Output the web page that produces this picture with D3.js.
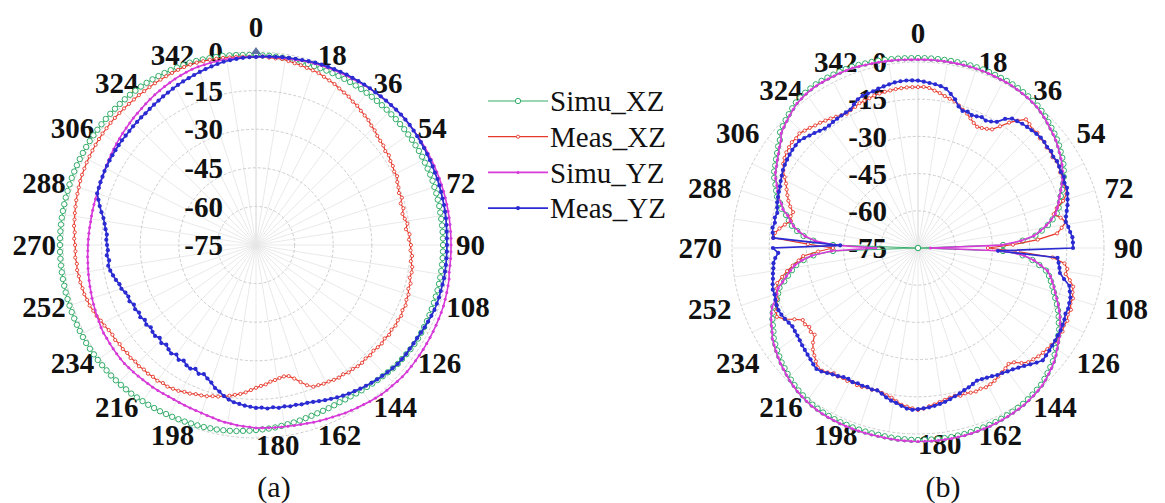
<!DOCTYPE html>
<html>
<head>
<meta charset="utf-8">
<script src="https://cdn.jsdelivr.net/npm/d3@7"></script>
<style>
  body { margin: 0; background: #fff; }
  text { font-family: 'Liberation Serif', 'Times New Roman', serif; fill: #111; }
</style>
</head>
<body>
<svg id="chart" width="1165" height="503"></svg>
<script>
// angle of every sample, degrees (0 = top, clockwise)
const angles = d3.range(0, 360, 2);
const angleTicks = [0, 18, 36, 54, 72, 90, 108, 126, 144, 162, 180, 198, 216, 234, 252, 270, 288, 306, 324, 342];
const radialTicks = [-75, -60, -45, -30, -15, 0];
const seriesNames = ['Simu_XZ', 'Meas_XZ', 'Simu_YZ', 'Meas_YZ'];

// (a) values in dB, one every 2 degrees
const simuXZ_a = [
  -1.2,-1.3,-1.3,-1.4,-1.5,-1.6,-1.7,-1.8,-1.8,-1.9,
  -1.9,-1.9,-1.9,-1.9,-1.9,-1.9,-1.9,-1.9,-1.9,-1.9,
  -1.9,-1.9,-1.9,-1.9,-1.9,-1.9,-1.9,-1.9,-1.9,-1.9,
  -1.9,-1.9,-2.0,-2.0,-2.0,-2.0,-2.1,-2.1,-2.2,-2.2,
  -2.3,-2.3,-2.3,-2.3,-2.3,-2.3,-2.3,-2.3,-2.3,-2.3,
  -2.3,-2.3,-2.3,-2.3,-2.3,-2.3,-2.3,-2.3,-2.3,-2.3,
  -2.3,-2.4,-2.6,-2.8,-3.0,-3.1,-3.4,-3.8,-4.1,-4.4,
  -4.7,-5.0,-5.2,-5.4,-5.6,-5.7,-5.8,-5.7,-5.6,-5.5,
  -5.4,-5.2,-5.0,-4.7,-4.5,-4.3,-4.0,-3.7,-3.5,-3.3,
  -3.1,-2.8,-2.6,-2.3,-2.1,-1.9,-1.7,-1.6,-1.4,-1.3,
  -1.2,-1.0,-0.9,-0.7,-0.6,-0.4,-0.3,-0.1,0,0.2,
  0.4,0.5,0.6,0.7,0.8,0.8,0.9,1.0,1.0,1.1,
  1.2,1.2,1.2,1.2,1.2,1.2,1.2,1.2,1.2,1.2,
  1.2,1.2,1.2,1.2,1.2,1.2,1.2,1.2,1.2,1.2,
  1.2,1.2,1.2,1.2,1.2,1.2,1.2,1.2,1.2,1.2,
  1.2,1.2,1.2,1.2,1.2,1.2,1.2,1.2,1.2,1.2,
  1.2,1.1,1.1,1.0,0.9,0.8,0.7,0.6,0.5,0.4,
  0.4,0.2,0,-0.2,-0.3,-0.4,-0.6,-0.8,-1.0,-1.1
];
const measXZ_a = [
  -1.9,-1.7,-2.0,-2.1,-2.0,-2.4,-2.8,-3.0,-3.4,-3.6,
  -3.9,-4.5,-5.0,-5.4,-6.1,-6.6,-7.0,-7.8,-8.1,-8.8,
  -9.3,-9.7,-10.5,-10.9,-11.6,-12.0,-12.2,-12.9,-12.7,-13.4,
  -13.6,-14.2,-14.0,-14.9,-15.3,-15.9,-15.4,-16.5,-16.0,-16.8,
  -16.3,-15.6,-16.4,-15.2,-15.5,-14.8,-14.9,-14.2,-14.5,-13.7,
  -13.6,-13.9,-13.1,-13.4,-12.7,-12.8,-12.3,-12.7,-12.2,-12.6,
  -12.4,-12.9,-12.6,-13.2,-12.9,-13.2,-13.6,-13.3,-13.7,-13.4,
  -13.5,-13.9,-13.8,-14.4,-14.2,-14.5,-14.9,-15.0,-15.4,-15.6,
  -17.0,-19.0,-21.0,-22.5,-22.8,-22.5,-22.0,-21.6,-20.7,-20.2,
  -19.5,-18.6,-17.6,-16.8,-16.2,-15.5,-15.0,-14.3,-13.9,-13.2,
  -12.8,-12.5,-11.8,-11.5,-10.8,-10.5,-10.1,-10.3,-9.8,-10.0,
  -9.7,-9.9,-9.5,-9.8,-9.4,-9.7,-9.3,-9.5,-9.0,-9.2,
  -8.9,-8.3,-7.9,-7.2,-6.8,-6.2,-6.0,-5.6,-5.5,-5.2,
  -5.1,-4.8,-5.0,-4.6,-4.8,-4.7,-4.3,-4.4,-3.9,-3.8,
  -3.5,-3.3,-3.0,-2.8,-2.6,-2.3,-2.1,-2.0,-1.8,-1.7,
  -1.6,-1.5,-1.4,-1.3,-1.3,-1.2,-1.2,-1.2,-1.2,-1.2,
  -1.2,-1.1,-1.1,-1.0,-0.9,-0.8,-0.7,-0.6,-0.5,-0.4,
  -0.4,-0.5,-0.7,-0.8,-1.0,-1.2,-1.4,-1.5,-1.7,-1.8
];
const simuYZ_a = [
  -1.9,-1.8,-1.8,-1.7,-1.6,-1.6,-1.4,-1.2,-1.0,-0.9,
  -0.8,-0.7,-0.6,-0.5,-0.4,-0.4,-0.2,0,0.1,0.3,
  0.4,0.5,0.6,0.7,0.8,0.8,0.8,0.8,0.8,0.8,
  0.8,0.8,0.8,0.8,0.8,0.8,0.8,0.8,0.8,0.8,
  0.8,0.8,0.8,0.8,0.8,0.8,0.8,0.8,0.8,0.8,
  1.2,1.3,1.4,1.5,1.6,1.6,1.6,1.6,1.6,1.6,
  1.6,1.6,1.6,1.6,1.6,1.6,1.5,1.3,1.1,1.0,
  0.8,0.5,0.2,-0.2,-0.5,-0.8,-1.1,-1.5,-1.8,-2.1,
  -2.3,-2.6,-2.9,-3.1,-3.3,-3.5,-3.6,-3.7,-3.8,-3.9,
  -3.9,-4.2,-4.4,-4.6,-4.9,-5.1,-5.4,-5.8,-6.1,-6.4,
  -6.6,-6.7,-6.8,-6.9,-7.0,-7.0,-6.9,-6.8,-6.7,-6.7,
  -6.6,-6.5,-6.4,-6.3,-6.2,-6.2,-6.3,-6.4,-6.5,-6.6,
  -6.6,-6.8,-7.1,-7.3,-7.6,-7.8,-8.0,-8.3,-8.5,-8.7,
  -8.9,-9.1,-9.3,-9.4,-9.6,-9.7,-9.8,-9.9,-10.0,-10.1,
  -10.1,-10.1,-10.1,-10.1,-10.1,-10.1,-9.9,-9.7,-9.4,-9.2,
  -8.9,-8.6,-8.3,-8.0,-7.7,-7.4,-7.1,-6.8,-6.4,-6.1,
  -5.8,-5.4,-5.0,-4.6,-4.3,-3.9,-3.6,-3.2,-2.9,-2.6,
  -2.3,-2.2,-2.1,-2.0,-2.0,-1.9,-1.9,-1.9,-1.9,-1.9
];
const measYZ_a = [
  -1.9,-1.7,-1.6,-1.5,-1.3,-1.2,-1.0,-0.9,-0.7,-0.5,
  -0.4,-0.3,-0.2,-0.1,0,0,0.1,0.2,0.3,0.3,
  0.4,0.5,0.6,0.7,0.8,0.8,0.8,0.7,0.6,0.5,
  0.4,0.3,0.2,0.1,0,0,-0.1,-0.2,-0.3,-0.3,
  -0.4,-0.5,-0.6,-0.7,-0.8,-0.8,-0.8,-0.8,-0.8,-0.8,
  -0.8,-0.9,-1.0,-1.0,-1.1,-1.2,-1.5,-1.8,-2.1,-2.4,
  -2.7,-2.8,-2.9,-2.9,-3.0,-3.1,-3.5,-3.9,-4.3,-4.7,
  -5.1,-5.6,-6.0,-6.5,-6.9,-7.4,-7.9,-8.5,-9.0,-9.6,
  -10.1,-10.5,-10.6,-11.0,-10.9,-11.3,-11.1,-11.6,-11.3,-11.8,
  -11.7,-12.1,-12.4,-12.9,-13.3,-14.0,-15.0,-16.3,-17.2,-18.8,
  -19.8,-20.9,-20.2,-21.4,-20.6,-21.0,-22.0,-21.2,-22.4,-21.5,
  -22.1,-22.9,-22.0,-23.0,-22.2,-22.5,-23.1,-22.3,-22.9,-22.0,
  -22.5,-21.8,-22.2,-21.2,-21.5,-21.0,-20.0,-19.8,-18.9,-18.2,
  -17.5,-17.0,-17.6,-16.9,-17.4,-17.1,-16.8,-16.9,-16.2,-15.6,
  -14.8,-13.6,-12.4,-11.3,-10.1,-10.0,-9.8,-9.7,-9.5,-9.4,
  -9.3,-9.2,-9.1,-9.0,-8.9,-8.9,-8.8,-8.6,-8.5,-8.3,
  -8.2,-7.9,-7.6,-7.3,-6.9,-6.6,-6.2,-5.8,-5.4,-5.1,
  -4.7,-4.3,-3.9,-3.5,-3.1,-2.7,-2.5,-2.3,-2.1,-2.0
];

// (b) values in dB, one every 2 degrees
const simuXZ_b = [
  1.6,1.6,1.6,1.6,1.6,1.6,1.6,1.6,1.6,1.6,
  1.6,1.5,1.4,1.3,1.3,1.2,1.0,0.8,0.6,0.3,
  0,-0.6,-1.2,-1.9,-2.6,-3.2,-3.9,-4.7,-5.6,-6.4,
  -7.3,-8.4,-9.6,-10.9,-12.3,-13.7,-14.8,-16.0,-17.3,-19.5,
  -21.8,-24.6,-27.4,-32.7,-40.7,-75,-40.7,-32.7,-28.6,-25.6,
  -22.6,-21.0,-19.8,-18.6,-17.4,-16.1,-14.6,-13.2,-11.9,-10.7,
  -9.3,-8.3,-7.3,-6.3,-5.1,-4.0,-3.2,-2.4,-1.6,-0.8,
  -0.4,0,0.4,0.8,1.0,1.2,1.4,1.6,1.8,1.9,
  2.0,2.1,2.2,2.3,2.3,2.4,2.4,2.4,2.4,2.4,
  2.4,2.4,2.3,2.3,2.2,2.1,2.0,2.0,2.0,2.0,
  2.0,1.9,1.9,1.8,1.7,1.6,1.4,1.2,0.8,0.4,
  0,-0.6,-1.2,-1.9,-2.6,-3.2,-4.0,-4.8,-5.6,-6.4,
  -7.7,-8.7,-9.7,-10.9,-12.1,-14.5,-15.7,-16.9,-19.4,-21.4,
  -23.4,-25.4,-28.6,-32.7,-40.7,-75,-40.7,-32.7,-28.6,-25.8,
  -23.4,-21.8,-20.2,-17.7,-16.5,-14.5,-13.3,-12.1,-10.5,-9.3,
  -8.5,-7.5,-6.5,-5.3,-4.3,-2.4,-1.6,-0.8,0,0.8,
  1.6,2.0,2.4,2.6,2.8,2.8,2.8,2.8,2.8,2.8,
  2.8,2.6,2.4,2.3,2.2,2.0,1.9,1.8,1.7,1.6
];
const measXZ_b = [
  -10.1,-10.0,-10.3,-11.2,-11.9,-12.8,-13.5,-14.0,-15.2,-16.4,
  -17.3,-18.6,-19.8,-20.6,-20.2,-19.5,-18.6,-15.8,-12.5,-9.8,
  -7.3,-7.8,-8.6,-8.1,-8.9,-8.5,-9.2,-8.8,-9.6,-9.1,
  -9.3,-10.1,-9.8,-10.8,-10.6,-11.3,-13.5,-16.8,-18.6,-16.2,
  -14.5,-16.5,-18.6,-26.6,-36.7,-46.8,-34.7,-20.6,-15.6,-14.2,
  -14.5,-12.4,-10.5,-10.2,-9.3,-9.6,-8.5,-8.9,-8.0,-8.4,
  -7.7,-8.2,-8.0,-8.5,-8.8,-9.3,-9.7,-10.4,-11.0,-12.6,
  -14.8,-15.7,-15.0,-14.5,-13.9,-13.2,-12.8,-12.5,-12.9,-12.6,
  -12.9,-13.4,-13.0,-13.6,-13.3,-12.8,-12.3,-11.6,-11.0,-10.2,
  -9.7,-10.3,-10.9,-11.4,-12.6,-13.7,-14.3,-14.8,-15.3,-14.9,
  -15.2,-14.6,-14.5,-14.9,-14.3,-14.5,-13.9,-14.1,-13.0,-12.2,
  -12.1,-13.5,-14.8,-16.1,-18.0,-20.6,-20.1,-20.8,-20.0,-20.2,
  -17.5,-14.0,-11.7,-12.4,-13.5,-14.5,-15.0,-15.8,-16.5,-19.0,
  -21.4,-24.0,-26.6,-28.6,-34.7,-40.7,-30.6,-16.5,-17.0,-18.6,
  -20.5,-22.6,-22.1,-22.6,-20.8,-19.4,-18.2,-17.0,-15.8,-14.1,
  -12.3,-10.9,-10.1,-9.4,-9.0,-8.6,-8.9,-8.5,-9.2,-9.8,
  -10.5,-10.9,-11.5,-12.0,-12.6,-13.2,-13.7,-13.1,-12.7,-12.0,
  -11.8,-11.5,-11.0,-10.8,-10.6,-10.5,-10.3,-10.2,-10.1,-10.1
];
const simuYZ_b = [
  1.0,1.0,1.0,1.0,1.0,1.0,1.0,1.0,1.0,1.0,
  1.0,0.9,0.8,0.7,0.7,0.6,0.4,0.2,0,-0.3,
  -0.6,-1.2,-1.8,-2.5,-3.2,-3.8,-4.5,-5.3,-6.2,-7.0,
  -7.9,-9.0,-10.2,-11.5,-12.9,-14.3,-15.4,-16.6,-17.9,-20.1,
  -22.4,-25.2,-28.0,-33.3,-41.3,-70,-40.1,-32.1,-28.0,-25.0,
  -22.0,-20.4,-19.2,-18.0,-16.8,-15.5,-14.0,-12.6,-11.3,-10.1,
  -8.7,-7.7,-6.7,-5.7,-4.5,-3.4,-2.6,-1.8,-1.0,-0.2,
  0.2,0.6,1.0,1.4,1.6,1.8,2.0,2.2,2.4,2.5,
  2.6,2.7,2.8,2.9,2.9,3.0,3.0,3.0,3.0,3.0,
  3.0,3.0,2.9,2.9,2.8,2.7,2.6,2.6,2.6,2.6,
  2.6,2.5,2.5,2.4,2.3,2.2,2.0,1.8,1.4,1.0,
  0.6,0,-0.6,-1.3,-2.0,-2.6,-3.4,-4.2,-5.0,-5.8,
  -7.1,-8.1,-9.1,-10.3,-11.5,-13.9,-15.1,-16.3,-18.8,-20.8,
  -22.8,-24.8,-28.0,-32.1,-40.1,-58,-41.3,-33.3,-29.2,-26.4,
  -24.0,-22.4,-20.8,-18.3,-17.1,-15.1,-13.9,-12.7,-11.1,-9.9,
  -9.1,-8.1,-7.1,-5.9,-4.9,-3.0,-2.2,-1.4,-0.6,0.2,
  1.0,1.4,1.8,2.0,2.2,2.2,2.2,2.2,2.2,2.2,
  2.2,2.0,1.8,1.7,1.6,1.4,1.3,1.2,1.1,1.0
];
const measYZ_b = [
  -7.5,-7.9,-8.3,-8.6,-9.1,-9.8,-11.5,-13.2,-15.6,-16.9,
  -16.5,-17.2,-16.9,-16.3,-16.8,-16.1,-15.0,-12.2,-10.5,-10.1,
  -9.6,-9.3,-9.0,-8.7,-8.4,-8.5,-8.9,-8.6,-9.2,-8.9,
  -9.3,-9.8,-9.5,-10.4,-10.2,-10.9,-11.6,-12.3,-13.2,-14.0,
  -14.5,-13.8,-13.3,-12.6,-12.5,-12.5,-42.7,-18.6,-18.0,-17.4,
  -16.9,-14.8,-12.1,-11.3,-10.4,-10.1,-9.7,-9.9,-9.3,-8.9,
  -8.6,-8.5,-8.3,-8.1,-7.8,-7.6,-7.3,-8.5,-9.8,-11.0,
  -12.0,-12.9,-13.5,-14.2,-14.6,-15.3,-15.8,-16.2,-16.5,-15.9,
  -15.2,-14.7,-14.0,-13.4,-12.7,-12.0,-11.5,-11.0,-10.6,-10.3,
  -10.0,-9.7,-10.1,-11.0,-11.9,-12.5,-13.4,-14.5,-15.3,-15.0,
  -15.4,-15.1,-15.3,-14.8,-15.2,-14.9,-14.1,-13.5,-12.7,-11.8,
  -11.3,-11.9,-12.6,-13.1,-13.6,-14.0,-14.5,-14.9,-15.1,-15.3,
  -14.8,-14.2,-13.7,-13.4,-13.5,-13.8,-14.2,-14.1,-14.6,-15.2,
  -15.6,-16.1,-16.4,-17.3,-18.6,-16.5,-43.6,-16.5,-16.1,-15.8,
  -16.4,-16.0,-16.5,-15.9,-15.3,-14.9,-14.5,-14.1,-13.4,-12.8,
  -12.1,-11.7,-11.3,-11.0,-10.7,-10.6,-10.5,-11.2,-12.0,-12.6,
  -13.3,-13.9,-14.0,-13.7,-13.5,-13.3,-13.1,-12.9,-11.6,-10.3,
  -9.7,-9.5,-9.3,-8.8,-8.4,-8.0,-7.6,-7.4,-7.3,-7.4
];

const styles = {
  Simu_XZ: { color: '#34ad6a', width: 1.1, mr: 2.7, fill: '#fff', sw: 1 },
  Meas_XZ: { color: '#e6392b', width: 1.2, mr: 1.6, fill: '#fff', sw: 0.9 },
  Simu_YZ: { color: '#d63ad8', width: 1.6, mr: 1.5, fill: '#d63ad8', sw: 0 },
  Meas_YZ: { color: '#2b2bd2', width: 1.7, mr: 2.1, fill: '#2b2bd2', sw: 0 }
};

const svg = d3.select('#chart');
const rad = d => d * Math.PI / 180;

function drawPanel(p) {
  const g = svg.append('g').attr('transform', `translate(${p.cx},${p.cy})`);
  const r = d3.scaleLinear().domain([-75, 0]).range([0, p.R]);
  const rv = v => r(Math.max(v, -75));

  // spokes
  g.append('g').selectAll('line').data(d3.range(0, 360, 9)).join('line')
    .attr('x2', d => d3.pointRadial(rad(d), p.R)[0])
    .attr('y2', d => d3.pointRadial(rad(d), p.R)[1])
    .attr('stroke', d => d === 0 ? '#cfcfcf' : '#e6e6e6')
    .attr('stroke-width', 0.9);

  // rings
  g.append('g').selectAll('circle').data(radialTicks.slice(1)).join('circle')
    .attr('r', d => r(d))
    .attr('fill', 'none')
    .attr('stroke', '#cdcdcd')
    .attr('stroke-dasharray', '3,2')
    .attr('stroke-width', 1);

  // radial tick labels
  g.append('g').selectAll('text').data(radialTicks).join('text')
    .attr('x', -p.rlx)
    .attr('y', d => -r(d))
    .attr('dy', '0.35em')
    .attr('text-anchor', 'end')
    .attr('font-size', 29)
    .attr('font-weight', 'bold')
    .text(d => d);

  // angle labels
  g.append('g').selectAll('text').data(angleTicks).join('text')
    .each(function(d) {
      const t = d3.select(this);
      if (d === 0) {
        t.attr('x', 0).attr('y', -(p.R + p.topOff)).attr('text-anchor', 'middle');
      } else {
        const [x, y] = d3.pointRadial(rad(d), p.R + p.off);
        t.attr('x', x).attr('y', y).attr('dy', '0.35em')
          .attr('text-anchor', d <= 180 ? 'start' : 'end');
      }
    })
    .attr('font-size', 29)
    .attr('font-weight', 'bold')
    .text(d => d);

  const line = d3.lineRadial().curve(d3.curveLinearClosed);

  seriesNames.forEach(name => {
    const vals = p.data[name];
    const s = styles[name];
    const pts = vals.map((v, i) => [rad(angles[i]), rv(v)]);
    g.append('path')
      .attr('d', line(pts))
      .attr('fill', 'none')
      .attr('stroke', s.color)
      .attr('stroke-width', s.width);
    g.append('g').selectAll('circle').data(pts).join('circle')
      .attr('cx', d => d3.pointRadial(d[0], d[1])[0])
      .attr('cy', d => d3.pointRadial(d[0], d[1])[1])
      .attr('r', s.mr)
      .attr('fill', s.fill)
      .attr('stroke', s.color)
      .attr('stroke-width', s.sw);
  });

  if (p.axisMark) {
    const y0 = -r(0) - 1;
    g.append('path')
      .attr('d', `M-5,${y0 + 3}L0,${y0 - 4}L5,${y0 + 3}Z`)
      .attr('fill', '#5f73a3');
  }

  svg.append('text')
    .attr('x', p.capX).attr('y', 497)
    .attr('text-anchor', 'middle')
    .attr('font-size', 30)
    .text(p.caption);
}

drawPanel({
  cx: 256, cy: 245, R: 193, off: 7, topOff: 15, rlx: 33, capX: 274, caption: '(a)', axisMark: true,
  data: { Simu_XZ: simuXZ_a, Meas_XZ: measXZ_a, Simu_YZ: simuYZ_a, Meas_YZ: measYZ_a }
});
drawPanel({
  cx: 918, cy: 248, R: 186, off: 10, topOff: 19, rlx: 31, capX: 943, caption: '(b)', axisMark: false,
  data: { Simu_XZ: simuXZ_b, Meas_XZ: measXZ_b, Simu_YZ: simuYZ_b, Meas_YZ: measYZ_b }
});

// legend
const legend = svg.append('g').attr('transform', 'translate(488,101)');
const rows = legend.selectAll('g').data(seriesNames).join('g')
  .attr('transform', (d, i) => `translate(0,${i * 35.7})`);
rows.append('line')
  .attr('x1', 0).attr('x2', 60)
  .attr('stroke', d => styles[d].color)
  .attr('stroke-width', d => styles[d].width);
rows.append('circle')
  .attr('cx', 30)
  .attr('r', d => styles[d].mr)
  .attr('fill', d => styles[d].fill)
  .attr('stroke', d => styles[d].color)
  .attr('stroke-width', d => styles[d].sw);
rows.append('text')
  .attr('x', 62).attr('dy', '0.35em')
  .attr('font-size', 29)
  .text(d => d);
</script>
</body>
</html>
